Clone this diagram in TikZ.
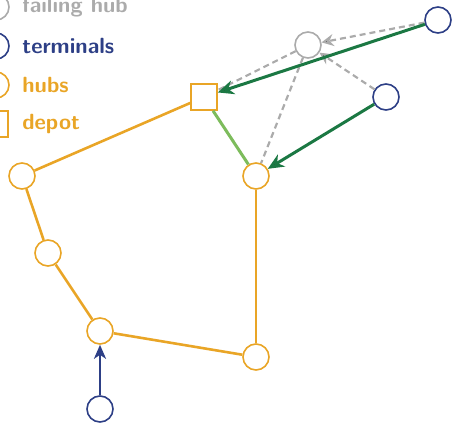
\documentclass[tikz,border=0pt]{standalone}
\usepackage{tikz}
\usetikzlibrary{arrows.meta}

\definecolor{hubcol}{HTML}{E9A526}
\definecolor{termcol}{HTML}{2D3F86}
\definecolor{failcol}{HTML}{ABABAB}
\definecolor{routecol}{HTML}{1B7843}
\definecolor{linkcol}{HTML}{7DBC5C}

\tikzset{
  hub/.style={circle,draw=hubcol,line width=0.8pt,minimum size=13pt,inner sep=0pt},
  terminal/.style={circle,draw=termcol,line width=0.8pt,minimum size=13pt,inner sep=0pt},
  failing/.style={circle,draw=failcol,line width=0.8pt,minimum size=13pt,inner sep=0pt},
  depot/.style={rectangle,draw=hubcol,line width=0.8pt,minimum size=13pt,inner sep=0pt},
  legend/.style={anchor=west,inner sep=0pt,font=\sffamily\bfseries\fontsize{11}{13}\selectfont},
  tour/.style={-,draw=hubcol,line width=1.3pt},
  reroute/.style={-{Stealth[length=8pt,width=7pt,inset=2.5pt]},draw=routecol,line width=1.5pt},
  old/.style={draw=failcol,line width=1.1pt,dash pattern=on 3pt off 2pt}
}

\begin{document}
\begin{tikzpicture}[x=0.5pt,y=-0.5pt]
  \useasboundingbox (0,0) rectangle (452,424);

  % legend
  \node[failing]  (LF) at (-4,7)   {};
  \node[terminal] (LT) at (-4,46)  {};
  \node[hub]      (LH) at (-4,85)  {};
  \node[depot]    (LD) at (-5,124) {};
  \node[legend,text=failcol] (LFt) at (22,7)   {failing hub};
  \node[legend,text=termcol] (LTt) at (22,46)  {terminals};
  \node[legend,text=hubcol]  (LHt) at (22,85)  {hubs};
  \node[legend,text=hubcol]  (LDt) at (22,124) {depot};

  % network
  \node[failing]  (F)  at (308,45)  {};
  \node[terminal] (T1) at (438,20)  {};
  \node[terminal] (T2) at (386,97)  {};
  \node[terminal] (T3) at (100,409) {};
  \node[depot]    (D)  at (204,97)  {};
  \node[hub]      (H1) at (256,176) {};
  \node[hub]      (H2) at (22,176)  {};
  \node[hub]      (H3) at (48,253)  {};
  \node[hub]      (H4) at (100,331) {};
  \node[hub]      (H5) at (256,357) {};

  \path[tour] (D) edge (H2)
              (H2) edge (H3)
              (H3) edge (H4)
              (H4) edge (H5)
              (H5) edge (H1);
  \draw[draw=linkcol,line width=1.5pt] (D) -- (H1);

  \path[old] (F) edge (D)
             (F) edge (H1)
             (T1) edge[-{Stealth[length=6pt,width=6pt,inset=2pt]}] (F)
             (T2) edge[-{Stealth[length=6pt,width=6pt,inset=2pt]}] (F);

  \path[reroute] (T1) edge (D)
                 (T2) edge (H1);
  \draw[-{Stealth[length=7pt,width=6pt,inset=2pt]},draw=termcol,line width=1.4pt] (T3) -- (H4);
\end{tikzpicture}
\end{document}
